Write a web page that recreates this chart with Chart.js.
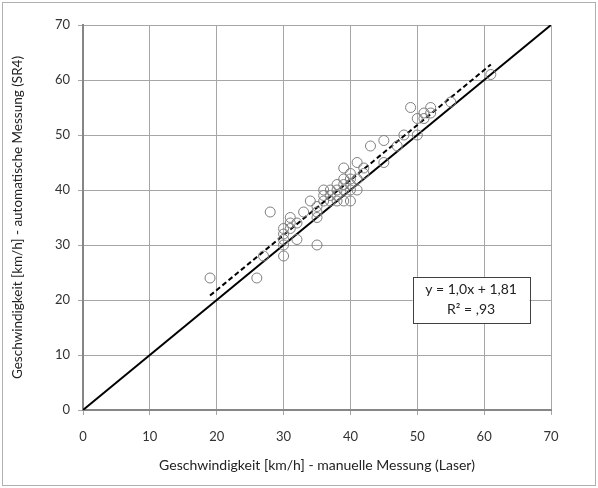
<!DOCTYPE html>
<html>
<head>
<meta charset="utf-8">
<script src="https://cdn.jsdelivr.net/npm/chart.js@4.4.0/dist/chart.umd.min.js"></script>
<style>
  html, body { margin: 0; padding: 0; background: #fff; }
  #wrap { width: 598px; height: 488px; }
</style>
</head>
<body>
<div id="wrap"><canvas id="chart" width="598" height="488"></canvas></div>
<script>
// Laser (manual) vs. SR4 (automatic) speed measurements
const laserKmh = [19, 26, 27, 28, 30, 30, 30, 30, 30, 31, 31, 31, 32, 32, 33, 34, 35, 35, 35, 35,
  36, 36, 36, 37, 37, 37, 38, 38, 38, 38, 39, 39, 39, 39, 39, 40, 40, 40, 40, 40,
  41, 41, 41, 42, 42, 43, 45, 45, 47, 48, 49, 50, 50, 51, 51, 52, 52, 55, 61];
const sr4Kmh = [24, 24, 28, 36, 28, 30, 31, 32, 33, 33, 34, 35, 31, 34, 36, 38, 30, 35, 36, 37,
  38, 39, 40, 38, 39, 40, 38, 39, 40, 41, 38, 40, 41, 42, 44, 38, 40, 41, 42, 43,
  40, 42, 45, 43, 44, 48, 45, 49, 48, 50, 55, 50, 53, 53, 54, 54, 55, 56, 61];

const axisTicks = [0, 10, 20, 30, 40, 50, 60, 70];
const identityLine = [0, 70];
const trendSlope = 1.0;
const trendIntercept = 1.81;
const trendRange = [19, 61];
const equationLines = ['y = 1,0x + 1,81', 'R\u00b2 = ,93'];

const FONT = 'Lato, "Liberation Sans", sans-serif';
const points = laserKmh.map((x, i) => ({ x: x, y: sr4Kmh[i] }));

// Outer chart frame
const framePlugin = {
  id: 'frame',
  beforeDraw(chart) {
    const ctx = chart.ctx;
    ctx.save();
    ctx.fillStyle = '#fff';
    ctx.fillRect(0, 0, chart.width, chart.height);
    ctx.strokeStyle = '#b0b0b0';
    ctx.lineWidth = 1;
    ctx.strokeRect(2.5, 2.5, chart.width - 5, chart.height - 5);
    ctx.restore();
  }
};

// Regression equation box
const equationPlugin = {
  id: 'equation',
  afterDraw(chart) {
    const ctx = chart.ctx;
    const xs = chart.scales.x, ys = chart.scales.y;
    const left = xs.getPixelForValue(49.3), right = xs.getPixelForValue(66.8);
    const top = ys.getPixelForValue(24.2), bottom = ys.getPixelForValue(15.8);
    ctx.save();
    ctx.fillStyle = '#fff';
    ctx.fillRect(left, top, right - left, bottom - top);
    ctx.strokeStyle = '#404040';
    ctx.lineWidth = 1;
    ctx.strokeRect(Math.round(left) + 0.5, Math.round(top) + 0.5, Math.round(right - left), Math.round(bottom - top));
    ctx.fillStyle = '#222';
    ctx.font = '14px ' + FONT;
    ctx.textAlign = 'center';
    ctx.textBaseline = 'middle';
    const cx = (left + right) / 2;
    ctx.fillText(equationLines[0], cx, top + 13);
    ctx.fillText(equationLines[1], cx, top + 33);
    ctx.restore();
  }
};

new Chart(document.getElementById('chart'), {
  type: 'scatter',
  data: {
    datasets: [{
      label: 'Messwerte',
      data: points,
      pointStyle: 'circle',
      pointRadius: 5,
      pointBorderWidth: 1,
      pointBorderColor: '#7f7f7f',
      pointBackgroundColor: 'rgba(0,0,0,0)',
      order: 1
    }, {
      label: 'y = x',
      type: 'line',
      data: identityLine.map(v => ({ x: v, y: v })),
      borderColor: '#000',
      borderWidth: 2,
      pointRadius: 0,
      fill: false,
      order: 2
    }, {
      label: 'Trend',
      type: 'line',
      data: trendRange.map(v => ({ x: v, y: trendSlope * v + trendIntercept })),
      borderColor: '#000',
      borderWidth: 2,
      borderDash: [5, 3],
      pointRadius: 0,
      fill: false,
      order: 3
    }]
  },
  options: {
    responsive: false,
    animation: false,
    devicePixelRatio: 1,
    layout: { padding: { left: 0, top: 25, right: 47, bottom: 0 } },
    plugins: {
      legend: { display: false },
      tooltip: { enabled: false }
    },
    scales: {
      x: {
        type: 'linear',
        min: 0,
        max: 70,
        afterBuildTicks: s => { s.ticks = axisTicks.map(v => ({ value: v })); },
        afterFit: s => { s.height = 78; },
        grid: { color: '#a6a6a6', lineWidth: 1, tickLength: 5 },
        border: { color: '#868686', width: 2 },
        ticks: { color: '#333', font: { family: FONT, size: 13 }, padding: 14, maxRotation: 0 },
        title: {
          display: true,
          text: 'Geschwindigkeit [km/h] - manuelle Messung (Laser)',
          color: '#222',
          font: { family: FONT, size: 14 },
          padding: { top: 0, bottom: 14 }
        }
      },
      y: {
        type: 'linear',
        min: 0,
        max: 70,
        afterBuildTicks: s => { s.ticks = axisTicks.map(v => ({ value: v })); },
        afterFit: s => { s.width = 83; },
        grid: { color: '#a6a6a6', lineWidth: 1, tickLength: 5 },
        border: { color: '#868686', width: 2 },
        ticks: { color: '#333', font: { family: FONT, size: 13 }, padding: 8 },
        title: {
          display: true,
          text: 'Geschwindigkeit [km/h] - automatische Messung (SR4)',
          color: '#222',
          font: { family: FONT, size: 13.5 },
          padding: { top: 10, bottom: 0 }
        }
      }
    }
  },
  plugins: [framePlugin, equationPlugin]
});
</script>
</body>
</html>
